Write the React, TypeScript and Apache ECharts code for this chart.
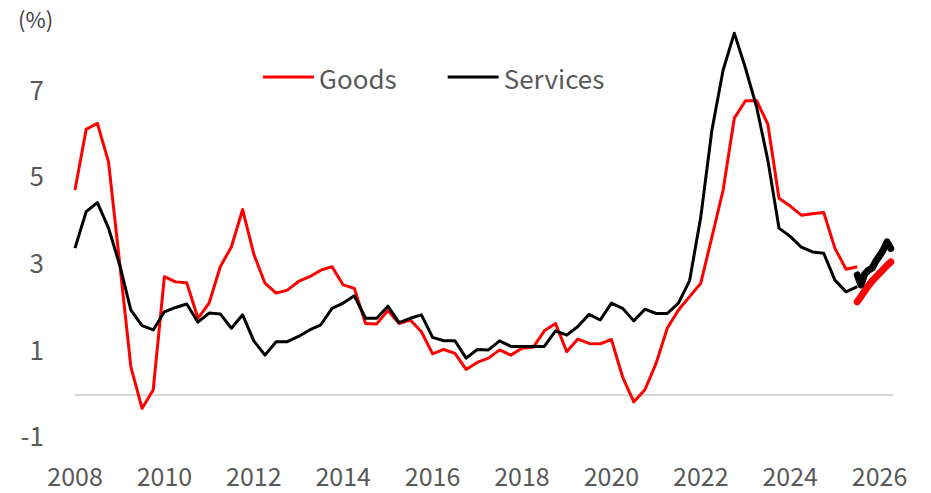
import React, { useEffect, useRef } from "react";
import * as echarts from "echarts";

const START_YEAR = 2008;
const X_TICKS = [2008, 2010, 2012, 2014, 2016, 2018, 2020, 2022, 2024, 2026];
const Y_TICKS = [-1, 1, 3, 5, 7];

// Quarterly YoY (%), 2008Q1 .. 2025Q3
const goodsQ = [
  4.73, 6.13, 6.27, 5.38, 3.04, 0.65, -0.31, 0.12,
  2.73, 2.61, 2.59, 1.77, 2.12, 2.96, 3.42, 4.28,
  3.25, 2.58, 2.35, 2.42, 2.62, 2.73, 2.88, 2.96,
  2.54, 2.46, 1.65, 1.64, 1.95, 1.65, 1.73, 1.46,
  0.95, 1.05, 0.96, 0.59, 0.75, 0.85, 1.04, 0.92,
  1.08, 1.10, 1.48, 1.65, 1.0, 1.29, 1.19, 1.18,
  1.28, 0.42, -0.16, 0.12, 0.73, 1.54, 1.96, 2.27,
  2.58, 3.65, 4.73, 6.39, 6.79, 6.79, 6.25, 4.54,
  4.36, 4.15, 4.18, 4.21, 3.39, 2.90, 2.96,
];
const servicesQ = [
  3.39, 4.23, 4.44, 3.85, 3.0, 1.96, 1.60, 1.50,
  1.92, 2.02, 2.10, 1.68, 1.89, 1.87, 1.54, 1.85,
  1.25, 0.92, 1.23, 1.23, 1.35, 1.50, 1.62, 2.0,
  2.12, 2.29, 1.77, 1.77, 2.05, 1.67, 1.77, 1.85,
  1.33, 1.25, 1.25, 0.85, 1.05, 1.04, 1.25, 1.12,
  1.12, 1.12, 1.12, 1.48, 1.38, 1.58, 1.86, 1.73,
  2.12, 2.0, 1.71, 1.98, 1.88, 1.88, 2.12, 2.64,
  4.11, 6.12, 7.50, 8.35, 7.54, 6.64, 5.42, 3.85,
  3.66, 3.41, 3.30, 3.27, 2.65, 2.38, 2.50,
];

// Monthly recent (%), Jul 2025 .. Apr 2026
const MONTHLY_START = 2025.5;
const goodsM = [2.15, 2.27, 2.40, 2.52, 2.63, 2.72, 2.81, 2.90, 2.99, 3.07];
const servicesM = [2.77, 2.54, 2.79, 2.88, 2.93, 3.09, 3.21, 3.35, 3.53, 3.38];

const RED = "#ff0000";
const BLACK = "#000000";
const FONT = '"Noto Sans CJK KR", "Noto Sans", sans-serif';

export default function App() {
  const ref = useRef<HTMLDivElement>(null);

  useEffect(() => {
    if (!ref.current) return;
    const chart = echarts.init(ref.current, null, { renderer: "svg" });

    const q = (arr: number[]) => arr.map((v, i) => [START_YEAR + i / 4, v]);
    const m = (arr: number[]) => arr.map((v, i) => [MONTHLY_START + i / 12, v]);

    chart.setOption({
      animation: false,
      backgroundColor: "#ffffff",
      textStyle: { fontFamily: FONT },
      grid: { left: 75, right: 38, top: 5, bottom: 54.7, containLabel: false },
      legend: {
        data: ["Goods", "Services"],
        left: 263,
        top: 64,
        padding: 0,
        icon: "rect",
        itemWidth: 51,
        itemHeight: 3,
        itemGap: 51,
        textStyle: { fontSize: 26, color: "#595959", fontFamily: FONT },
      },
      graphic: [
        {
          type: "text",
          left: 18,
          top: 7,
          style: { text: "(%)", fontSize: 22, fill: "#404040", fontFamily: FONT },
        },
      ],
      xAxis: {
        type: "value",
        min: 2008,
        max: 2026.3,
        interval: 2,
        axisLine: { show: false },
        axisTick: { show: false },
        splitLine: { show: false },
        axisLabel: {
          fontSize: 25,
          color: "#595959",
          margin: 24,
          fontFamily: FONT,
          formatter: (v: number) => (X_TICKS.includes(v) ? String(v) : ""),
        },
      },
      yAxis: {
        type: "value",
        min: -1,
        max: 9,
        interval: 2,
        axisLine: { show: false },
        axisTick: { show: false },
        splitLine: { show: false },
        axisLabel: {
          margin: 31,
          formatter: (v: number) => (Y_TICKS.includes(v) ? `{t|${v}}` : ""),
          rich: {
            t: {
              fontSize: 26,
              color: "#595959",
              fontFamily: FONT,
              padding: [0, 0, 7, 0],
            },
          },
        },
      },
      series: [
        {
          name: "Goods",
          type: "line",
          data: q(goodsQ),
          symbol: "none",
          color: RED,
          itemStyle: { color: RED },
          lineStyle: { color: RED, width: 3, join: "round" },
          z: 3,
          markLine: {
            silent: true,
            symbol: "none",
            label: { show: false },
            lineStyle: { color: "#d9d9d9", width: 2, type: "solid" },
            data: [{ yAxis: 0 }],
            z: 1,
          },
        },
        {
          name: "Services",
          type: "line",
          data: q(servicesQ),
          symbol: "none",
          color: BLACK,
          itemStyle: { color: BLACK },
          lineStyle: { color: BLACK, width: 3, join: "round" },
          z: 4,
        },
        {
          name: "Goods (monthly)",
          type: "line",
          data: m(goodsM),
          symbol: "none",
          color: RED,
          lineStyle: { color: RED, width: 7, cap: "round", join: "round" },
          z: 5,
        },
        {
          name: "Services (monthly)",
          type: "line",
          data: m(servicesM),
          symbol: "none",
          color: BLACK,
          lineStyle: { color: BLACK, width: 7, cap: "round", join: "round" },
          z: 6,
        },
      ],
    });

    return () => chart.dispose();
  }, []);

  return (
    <div
      ref={ref}
      style={{ position: "fixed", left: 0, top: 0, width: 931, height: 493, background: "#fff" }}
    />
  );
}
